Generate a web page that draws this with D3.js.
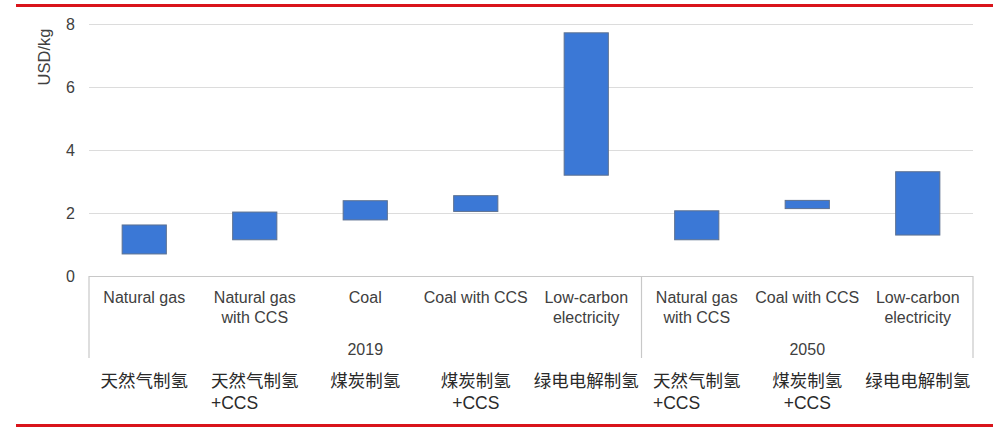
<!DOCTYPE html>
<html>
<head>
<meta charset="utf-8">
<script src="https://cdn.jsdelivr.net/npm/d3@7"></script>
<style>
  html, body { margin: 0; padding: 0; background: #fff; }
  svg { display: block; }
</style>
</head>
<body>
<svg id="chart" width="1000" height="432"></svg>
<script>
// ---- data ----
const categories = ["NG2019", "NGCCS2019", "Coal2019", "CoalCCS2019", "LCE2019", "NGCCS2050", "CoalCCS2050", "LCE2050"];
const enLabels = [["Natural gas"], ["Natural gas", "with CCS"], ["Coal"], ["Coal with CCS"], ["Low-carbon", "electricity"], ["Natural gas", "with CCS"], ["Coal with CCS"], ["Low-carbon", "electricity"]];
const cnLabels = [["天然气制氢"], ["天然气制氢", "+CCS"], ["煤炭制氢"], ["煤炭制氢", "+CCS"], ["绿电电解制氢"], ["天然气制氢", "+CCS"], ["煤炭制氢", "+CCS"], ["绿电电解制氢"]];
const cnSecondLeft = [false, true, false, false, false, true, false, false];
const years = ["2019", "2050"];
const yearCounts = [5, 3];
const lowValues = [0.70, 1.15, 1.78, 2.05, 3.20, 1.15, 2.14, 1.30];
const highValues = [1.62, 2.03, 2.39, 2.55, 7.72, 2.07, 2.40, 3.31];
const yTicks = [0, 2, 4, 6, 8];
const yLabel = "USD/kg";

// ---- layout ----
const svg = d3.select("#chart");
const plotLeft = 89, plotRight = 973, plotTop = 24, plotBottom = 276;
const latin = "'Liberation Sans', Arial, sans-serif";
const cjk = "'Liberation Sans', 'Noto Sans CJK SC', sans-serif";
const textColor = "#404040";

const x = d3.scaleBand().domain(categories).range([plotLeft, plotRight]).paddingInner(0).paddingOuter(0);
const y = d3.scaleLinear().domain([0, 8]).range([plotBottom, plotTop]);

// red frame lines
svg.append("line").attr("x1", 16).attr("x2", 993).attr("y1", 5.5).attr("y2", 5.5)
  .attr("stroke", "#d9141b").attr("stroke-width", 3);
svg.append("line").attr("x1", 16).attr("x2", 993).attr("y1", 425.5).attr("y2", 425.5)
  .attr("stroke", "#d9141b").attr("stroke-width", 3);

// gridlines
svg.append("g").selectAll("line").data(yTicks.filter(d => d > 0)).join("line")
  .attr("x1", plotLeft).attr("x2", plotRight)
  .attr("y1", d => Math.round(y(d)) + 0.5).attr("y2", d => Math.round(y(d)) + 0.5)
  .attr("stroke", "#dcdcdc").attr("stroke-width", 1.2);

// y axis
const yAxis = d3.axisLeft(y).tickValues(yTicks).tickSize(0).tickPadding(0).tickFormat(d3.format("d"));
const gy = svg.append("g").attr("transform", `translate(${plotLeft - 14},0)`).call(yAxis);
gy.select(".domain").remove();
gy.selectAll("text").attr("font-family", latin).attr("font-size", 16).attr("fill", textColor);

svg.append("text")
  .attr("transform", `translate(50,57) rotate(-90)`)
  .attr("text-anchor", "middle")
  .attr("font-family", latin).attr("font-size", 16.5).attr("fill", textColor)
  .text(yLabel);

// bars
const bw = x.bandwidth() * 0.4;
svg.append("g").selectAll("rect").data(categories).join("rect")
  .attr("x", (d) => x(d) + (x.bandwidth() - bw) / 2)
  .attr("width", bw)
  .attr("y", (d, i) => y(highValues[i]))
  .attr("height", (d, i) => y(lowValues[i]) - y(highValues[i]))
  .attr("fill", "#3b78d6")
  .attr("stroke", "#5d7190")
  .attr("stroke-width", 1);

// category box
const boxBottom = 358;
const boxColor = "#c8c8c8";
svg.append("line").attr("x1", plotLeft).attr("x2", plotRight).attr("y1", plotBottom + 0.5).attr("y2", plotBottom + 0.5)
  .attr("stroke", boxColor).attr("stroke-width", 1.2);
let acc = 0;
const seps = [0];
yearCounts.forEach(c => { acc += c; seps.push(acc); });
svg.append("g").selectAll("line").data(seps).join("line")
  .attr("x1", d => d < categories.length ? x(categories[d]) : plotRight)
  .attr("x2", d => d < categories.length ? x(categories[d]) : plotRight)
  .attr("y1", plotBottom).attr("y2", boxBottom)
  .attr("stroke", boxColor).attr("stroke-width", 1.2);

// english labels
const enG = svg.append("g");
categories.forEach((c, i) => {
  const cx = x(c) + x.bandwidth() / 2;
  enLabels[i].forEach((t, j) => {
    enG.append("text").attr("x", cx).attr("y", 303 + j * 20)
      .attr("text-anchor", "middle")
      .attr("font-family", latin).attr("font-size", 16).attr("fill", textColor)
      .text(t);
  });
});

// year labels
acc = 0;
years.forEach((yr, k) => {
  const x0 = x(categories[acc]);
  const last = categories[acc + yearCounts[k] - 1];
  const x1 = x(last) + x.bandwidth();
  svg.append("text").attr("x", (x0 + x1) / 2).attr("y", 355)
    .attr("text-anchor", "middle")
    .attr("font-family", latin).attr("font-size", 16).attr("fill", textColor)
    .text(yr);
  acc += yearCounts[k];
});

// chinese labels
const cnG = svg.append("g");
categories.forEach((c, i) => {
  const cx = x(c) + x.bandwidth() / 2;
  const first = cnG.append("text").attr("x", cx).attr("y", 387)
    .attr("text-anchor", "middle")
    .attr("font-family", cjk).attr("font-size", 17.5).attr("fill", "#2a2a2a")
    .text(cnLabels[i][0]);
  if (cnLabels[i].length > 1) {
    const w = first.node().getComputedTextLength();
    const t2 = cnG.append("text").attr("y", 409)
      .attr("font-family", cjk).attr("font-size", 17.5).attr("fill", "#2a2a2a")
      .text(cnLabels[i][1]);
    if (cnSecondLeft[i]) {
      t2.attr("x", cx - w / 2).attr("text-anchor", "start");
    } else {
      t2.attr("x", cx).attr("text-anchor", "middle");
    }
  }
});
</script>
</body>
</html>
